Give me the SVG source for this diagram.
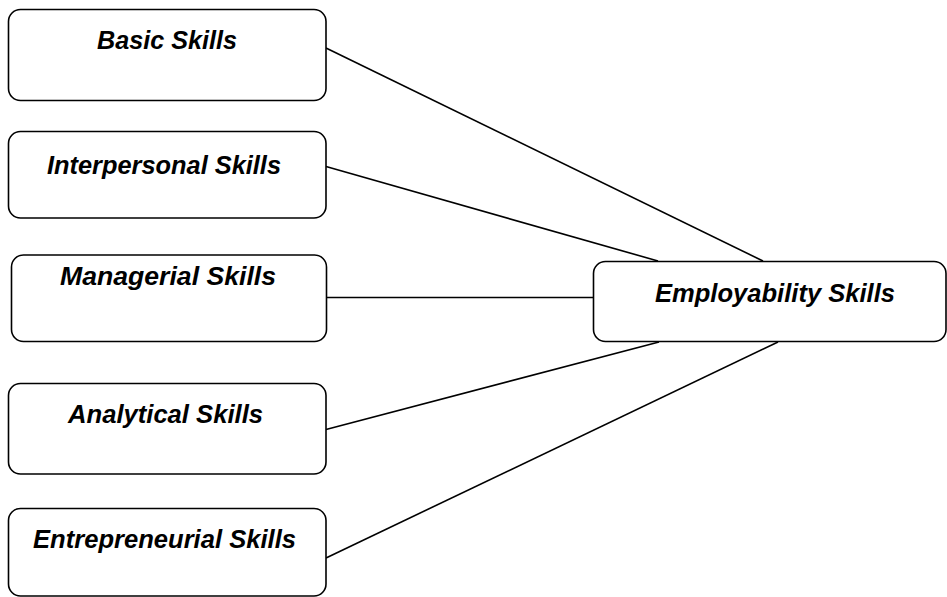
<svg xmlns="http://www.w3.org/2000/svg" width="947" height="597" viewBox="0 0 947 597">
  <style>
    .box { fill: #ffffff; stroke: #000000; stroke-width: 1.6; }
    .lbl { font-family: "Liberation Sans", Arial, sans-serif; font-weight: bold; font-style: italic; font-size: 26px; fill: #000000; }
    .link { stroke: #000000; stroke-width: 1.6; fill: none; }
  </style>
  <rect width="947" height="597" fill="#ffffff"/>

  <!-- connectors from each skill to the central node -->
  <g id="connectors">
    <line class="link" x1="326" y1="48" x2="763" y2="261"/>
    <line class="link" x1="326" y1="166.5" x2="658" y2="261"/>
    <line class="link" x1="327" y1="297.5" x2="593.5" y2="297.5"/>
    <line class="link" x1="326" y1="429.5" x2="659" y2="342"/>
    <line class="link" x1="326" y1="558" x2="778" y2="342"/>
  </g>

  <g id="basic">
    <rect class="box" x="8.5" y="9.5" width="317.5" height="91" rx="12"/>
    <text class="lbl" x="97" y="49" textLength="140" lengthAdjust="spacingAndGlyphs">Basic Skills</text>
  </g>

  <g id="interpersonal">
    <rect class="box" x="8.5" y="131.5" width="317.5" height="86.5" rx="12"/>
    <text class="lbl" x="47" y="174" textLength="234" lengthAdjust="spacingAndGlyphs">Interpersonal Skills</text>
  </g>

  <g id="managerial">
    <rect class="box" x="11.5" y="255" width="315" height="86.5" rx="12"/>
    <text class="lbl" x="60" y="285" textLength="216" lengthAdjust="spacingAndGlyphs">Managerial Skills</text>
  </g>

  <g id="analytical">
    <rect class="box" x="8.5" y="383.5" width="317.5" height="90.5" rx="12"/>
    <text class="lbl" x="68" y="423" textLength="195" lengthAdjust="spacingAndGlyphs">Analytical Skills</text>
  </g>

  <g id="entrepreneurial">
    <rect class="box" x="8.5" y="508.5" width="317.5" height="87.5" rx="12"/>
    <text class="lbl" x="33" y="548" textLength="263" lengthAdjust="spacingAndGlyphs">Entrepreneurial Skills</text>
  </g>

  <g id="employability">
    <rect class="box" x="593.5" y="261.5" width="352.5" height="80" rx="12"/>
    <text class="lbl" x="655" y="302" textLength="240" lengthAdjust="spacingAndGlyphs">Employability Skills</text>
  </g>
</svg>
